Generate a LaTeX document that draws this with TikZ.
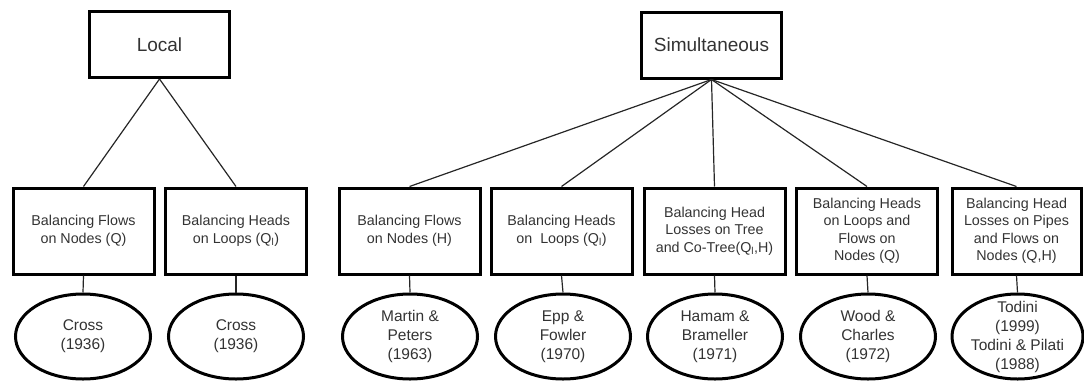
\documentclass[tikz,border=0pt]{standalone}
\usepackage{fontspec}
\setmainfont{Liberation Sans}
\usetikzlibrary{shapes.geometric}
\definecolor{txt}{HTML}{333333}
\tikzset{
  top/.style={draw=black, line width=3pt, rectangle, minimum width=140pt, minimum height=66pt,
    inner sep=0pt, text=txt, font=\fontsize{19}{22}\selectfont},
  mid/.style={draw=black, line width=3pt, rectangle, minimum width=141pt, minimum height=86pt,
    inner sep=0pt, text=txt, align=center, font=\fontsize{14.3}{17.5}\selectfont},
  leaf/.style={draw=black, line width=3pt, ellipse, minimum width=135pt, minimum height=85pt,
    inner sep=0pt, text=txt, align=center, font=\fontsize{15.5}{19}\selectfont},
  link/.style={draw=black!85, line width=1.2pt}
}
\begin{document}
\begin{tikzpicture}[x=1pt,y=-1pt]
\useasboundingbox (0,0) rectangle (1084,381);
\node[top] (local) at (159.5,44.5) {Local};
\node[top] (sim) at (711.5,45) {Simultaneous};

\node[mid] (b1) at (83.5,231) {Balancing Flows\\on Nodes (Q)};
\node[mid] (b2) at (236,231) {Balancing Heads\\on Loops (Q\textsubscript{l})};
\node[mid] (b3) at (409.5,231) {Balancing Flows\\on Nodes (H)};
\node[mid] (b4) at (561.5,231) {Balancing Heads\\on\ \ Loops (Q\textsubscript{l})};
\node[mid] (b5) at (714.5,231) {Balancing Head\\Losses on Tree\\and Co-Tree(Q\textsubscript{l},H)};
\node[mid] (b6) at (867,231) {Balancing Heads\\on Loops and\\Flows on\\Nodes (Q)};
\node[mid, minimum width=129pt] (b7) at (1016.5,231) {Balancing Head\\Losses on Pipes\\and Flows on\\Nodes (Q,H)};

\node[leaf] (e1) at (83,336.5) {Cross\\(1936)};
\node[leaf] (e2) at (236,336.5) {Cross\\(1936)};
\node[leaf] (e3) at (410,336.5) {Martin \&\\Peters\\(1963)};
\node[leaf] (e4) at (563,336.5) {Epp \&\\Fowler\\(1970)};
\node[leaf] (e5) at (715,336.5) {Hamam \&\\Brameller\\(1971)};
\node[leaf] (e6) at (868,336.5) {Wood \&\\Charles\\(1972)};
\node[leaf, minimum width=131pt, inner xsep=-2pt, inner ysep=-9pt] (e7) at (1017.5,336.5) {Todini\\(1999)\\Todini \& Pilati\\(1988)};

\foreach \b in {b1,b2} \draw[link] (local.south) -- (\b.north);
\foreach \b in {b3,b4,b5,b6,b7} \draw[link] (sim.south) -- (\b.north);
\foreach \i in {1,...,7} \draw[link] (b\i.south) -- (e\i.north);
\end{tikzpicture}
\end{document}
